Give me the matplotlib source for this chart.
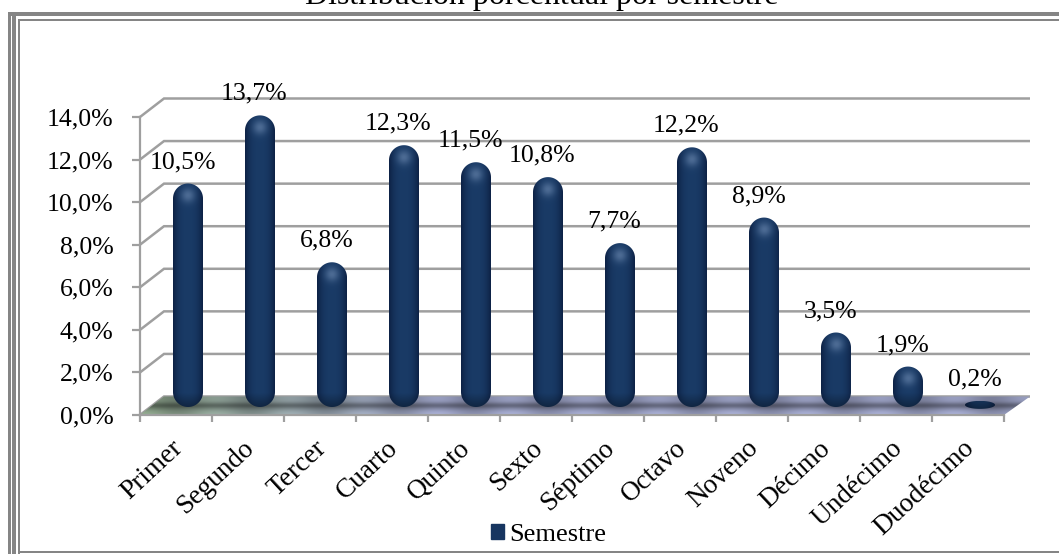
import numpy as np
import matplotlib
matplotlib.use("Agg")
import matplotlib.pyplot as plt
from matplotlib.patches import Polygon, Rectangle, PathPatch, Patch
from matplotlib.path import Path

categories = ["Primer", "Segundo", "Tercer", "Cuarto", "Quinto", "Sexto",
              "Séptimo", "Octavo", "Noveno", "Décimo", "Undécimo", "Duodécimo"]
values = [10.5, 13.7, 6.8, 12.3, 11.5, 10.8, 7.7, 12.2, 8.9, 3.5, 1.9, 0.2]
y_ticks = [0, 2, 4, 6, 8, 10, 12, 14]
series_name = "Semestre"
title_text = "Distribución porcentual por semestre"

W, H = 1059, 554
plt.rcParams["font.family"] = ["Liberation Serif", "DejaVu Serif"]
fig = plt.figure(figsize=(W / 100, H / 100), dpi=100, facecolor="white")
ax = fig.add_axes([140 / W, 1 - 415 / H, 864 / W, 298 / H], facecolor="none")
ax.set_xlim(0, 12)
ax.set_ylim(0, 14)

PX = 72.0          # pixels per category
PY = 298.0 / 14    # pixels per percent
DX, DY = 24 / PX, 18.5 / PY   # depth of the 3-D box
GRID = "#9f9f9f"

# ---- frame of the picture
def frame(x0, y0, x1, y1, c="#858585"):
    fig.add_artist(Rectangle((x0 / W, 1 - y1 / H), (x1 - x0) / W, (y1 - y0) / H,
                             transform=fig.transFigure, fc=c, ec="none"))
frame(8, 12, 11, H)
frame(12, 12, 16, H)
frame(8, 12, W, 16)
frame(18, 18.5, 20, H)
frame(18, 18.5, W, 21)
frame(18, 551, W, 553)

# ---- back wall lines
for v in y_ticks:
    ax.plot([0, DX, 12 + DX + 2 / PX], [v, v + DY, v + DY], color=GRID, lw=1.8,
            clip_on=False, zorder=1, solid_joinstyle="miter", solid_capstyle="butt")

# ---- floor
floor = Polygon([(0, 0), (12, 0), (12 + DX + 2 / PX, DY), (DX, DY)], closed=True,
                transform=ax.transData, fc="none", ec="none")
ax.add_patch(floor)
ny, nx = 36, 300
t = np.linspace(0, 1, nx)[None, :, None]
left = np.array([0.47, 0.55, 0.46])[None, None, :]
right = np.array([0.54, 0.56, 0.68])[None, None, :]
base = left + (right - left) * np.clip(t * 3.0, 0, 1)
yy = np.linspace(0, 1, ny)[:, None, None]       # 0 = back, 1 = front
band = 1 - 0.34 * np.exp(-((yy - 0.50) / 0.17) ** 2)
ripple = 1 + 0.10 * np.cos(np.linspace(0, 12 * 2 * np.pi, nx))[None, :, None]
front = 1 + 0.15 * np.clip((yy - 0.72) / 0.28, 0, 1)
img = np.clip(base * band * ripple * front, 0, 1)
im = ax.imshow(img, extent=(0, 12 + DX + 2 / PX, 0, DY), aspect="auto", zorder=2,
               interpolation="bilinear")
im.set_clip_box(fig.bbox)
im.set_clip_path(floor)
ax.set_xlim(0, 12)
ax.set_ylim(0, 14)

# ---- capsule-shaped columns
BAR_HALF = 15 / PX
BASE = 8 / PY
MIN_H = 8 / PY

def capsule(xc, y0, y1):
    r = min(15 / PY, (y1 - y0) / 2)
    th = np.linspace(0, np.pi, 40)
    top = np.c_[xc + BAR_HALF * np.cos(th), y1 - r + r * np.sin(th)]
    bot = np.c_[xc - BAR_HALF * np.cos(th), y0 + r - r * np.sin(th)]
    return np.vstack([top, bot, top[:1]])

def shading(h_px):
    n_y, n_x = max(int(h_px * 2), 8), 60
    xs = np.linspace(-1, 1, n_x)[None, :]
    ys = np.linspace(0, h_px, n_y)[:, None]      # distance from the top
    dark = np.array([0.05, 0.13, 0.27])
    mid = np.array([0.10, 0.23, 0.40])
    k = np.clip(1 - np.abs(xs) ** 2.6, 0, 1)[:, :, None]
    rgb = dark + (mid - dark) * k
    fall = np.clip((ys - (h_px - 14)) / 14, 0, 1)[:, :, None]
    rgb = rgb * (1 - 0.35 * fall)
    if h_px > 20:
        d = np.sqrt(((xs * 15) / 8) ** 2 + ((ys - 12) / 8) ** 2)[:, :, None]
        rgb = rgb + (np.array([0.30, 0.42, 0.58]) - rgb) * np.exp(-d ** 2 * 1.3)
    return np.clip(rgb, 0, 1)

for i, v in enumerate(values):
    xc = i + 0.5 + 12 / PX
    h = max(v, MIN_H)
    y0 = BASE - (h - v) / 2
    y1 = y0 + h
    patch = PathPatch(Path(capsule(xc, y0, y1)), fc="none", ec="none", zorder=3)
    ax.add_patch(patch)
    bar = ax.imshow(shading(h * PY), extent=(xc - BAR_HALF, xc + BAR_HALF, y0, y1),
                    origin="upper", aspect="auto", zorder=3, interpolation="bilinear")
    bar.set_clip_box(fig.bbox)
    bar.set_clip_path(patch)
    ax.annotate(f"{v:.1f}%".replace(".", ","), (xc, y1), xytext=(-4, 15.5),
                textcoords="offset points", ha="center", va="center",
                fontsize=18.5, color="#000000", zorder=5, annotation_clip=False)
ax.set_xlim(0, 12)
ax.set_ylim(0, 14)

# ---- axes
for s in ("top", "right"):
    ax.spines[s].set_visible(False)
for s in ("left", "bottom"):
    ax.spines[s].set_color(GRID)
    ax.spines[s].set_linewidth(1.6)
    ax.spines[s].set_zorder(4)
ax.set_yticks(y_ticks)
ax.set_yticklabels([f"{v:.1f}%".replace(".", ",") for v in y_ticks], fontsize=18.5, color="#000000")
ax.tick_params(axis="y", length=6, width=1.6, color=GRID, pad=13)
ax.set_xticks(range(13))
ax.set_xticklabels([])
ax.tick_params(axis="x", which="major", length=5, width=1.6, color=GRID)
ax.set_xticks(np.arange(12) + 0.42, minor=True)
ax.set_xticklabels(categories, minor=True, rotation=43, ha="right", va="top",
                   rotation_mode="anchor", fontsize=19.6, color="#000000")
ax.tick_params(axis="x", which="minor", length=0, pad=15)

# ---- legend and title
handle = Patch(facecolor="#173560", edgecolor="#173560", label=series_name)
fig.legend(handles=[handle], loc="center", bbox_to_anchor=(548.5 / W, 1 - 535 / H),
           frameon=False, fontsize=19, handlelength=0.53, handleheight=0.53,
           handletextpad=0.19, borderpad=0, borderaxespad=0, labelcolor="#000000")
fig.text(541.5 / W, 1 - 4 / H, title_text, ha="center", va="baseline",
         fontsize=23, color="#000000")

fig.savefig("out.png", dpi=100)
